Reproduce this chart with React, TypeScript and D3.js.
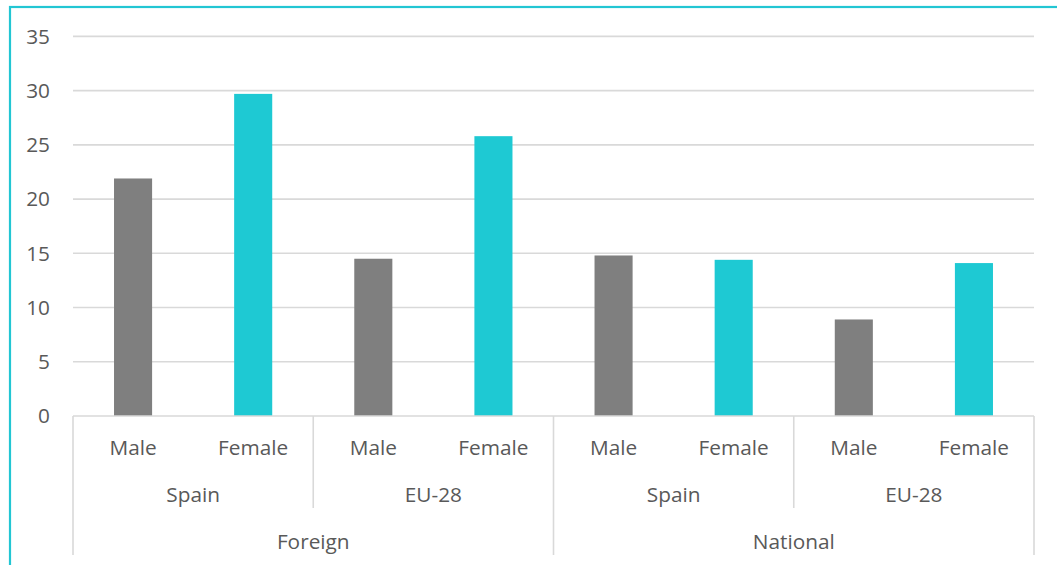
import React from "react";
import * as d3 from "d3";

// Employment shares by nationality group, region and sex
const groups = ["Foreign", "National"];
const regions = ["Spain", "EU-28"];
const sexes = ["Male", "Female"];
const foreignValues = [21.9, 29.7, 14.5, 25.8];
const nationalValues = [14.8, 14.4, 8.9, 14.1];
const yTicks = [0, 5, 10, 15, 20, 25, 30, 35];

const W = 1057;
const H = 565;
const M = { left: 73, right: 1034, top: 36.4, bottom: 416 };

const COLORS: Record<string, string> = { Male: "#7f7f7f", Female: "#1ec9d3" };
const TEXT = "#595959";
const GRID = "#d9d9d9";
const FONT = "'Open Sans', 'Segoe UI', sans-serif";
const FS = 20.8;

type Row = { group: string; region: string; sex: string; value: number; key: string };

const rows: Row[] = [];
groups.forEach((g, gi) => {
  const vals = gi === 0 ? foreignValues : nationalValues;
  regions.forEach((r, ri) => {
    sexes.forEach((s, si) => {
      rows.push({ group: g, region: r, sex: s, value: vals[ri * 2 + si], key: `${g}|${r}|${s}` });
    });
  });
});

export default function App() {
  const x = d3
    .scaleBand<string>()
    .domain(rows.map((d) => d.key))
    .range([M.left, M.right])
    .paddingInner(0)
    .paddingOuter(0);
  const y = d3.scaleLinear().domain([0, 35]).range([M.bottom, M.top]);
  const bw = x.bandwidth();
  const barW = bw * 0.317;

  const regionW = bw * 2;
  const groupW = bw * 4;

  return (
    <svg
      width={W}
      height={H}
      style={{ position: "absolute", left: 0, top: 0, background: "#fff" }}
      fontFamily={FONT}
    >
      <rect x={10} y={7} width={1100} height={700} fill="#fff" stroke="#22c6d3" strokeWidth={2.2} />

      {/* gridlines */}
      {yTicks.slice(1).map((t) => (
        <line key={t} x1={M.left} x2={M.right} y1={y(t)} y2={y(t)} stroke={GRID} strokeWidth={1.6} />
      ))}

      {/* y tick labels */}
      {yTicks.map((t) => (
        <text key={t} x={50} y={y(t)} dy="0.35em" textAnchor="end" fontSize={FS} fill={TEXT}>
          {t}
        </text>
      ))}

      {/* bars */}
      {rows.map((d) => (
        <rect
          key={d.key}
          x={(x(d.key) as number) + (bw - barW) / 2}
          y={y(d.value)}
          width={barW}
          height={y(0) - y(d.value)}
          fill={COLORS[d.sex]}
        />
      ))}

      {/* category axis baseline */}
      <line x1={M.left} x2={M.right} y1={M.bottom} y2={M.bottom} stroke={GRID} strokeWidth={1.6} />

      {/* sex labels */}
      {rows.map((d) => (
        <text
          key={"l" + d.key}
          x={(x(d.key) as number) + bw / 2}
          y={448}
          dy="0.35em"
          textAnchor="middle"
          fontSize={FS}
          fill={TEXT}
        >
          {d.sex}
        </text>
      ))}

      {/* region labels and separators */}
      {groups.map((g, gi) =>
        regions.map((r, ri) => {
          const x0 = M.left + gi * groupW + ri * regionW;
          return (
            <g key={g + r}>
              <text x={x0 + regionW / 2} y={495} dy="0.35em" textAnchor="middle" fontSize={FS} fill={TEXT}>
                {r}
              </text>
              {ri === 1 && (
                <line x1={x0} x2={x0} y1={M.bottom} y2={508} stroke={GRID} strokeWidth={1.6} />
              )}
            </g>
          );
        })
      )}

      {/* group labels and separators */}
      {groups.map((g, gi) => {
        const x0 = M.left + gi * groupW;
        return (
          <text key={g} x={x0 + groupW / 2} y={542} dy="0.35em" textAnchor="middle" fontSize={FS} fill={TEXT}>
            {g}
          </text>
        );
      })}
      {[0, 1, 2].map((i) => {
        const xx = M.left + i * groupW;
        return <line key={i} x1={xx} x2={xx} y1={M.bottom} y2={555} stroke={GRID} strokeWidth={1.6} />;
      })}
    </svg>
  );
}
